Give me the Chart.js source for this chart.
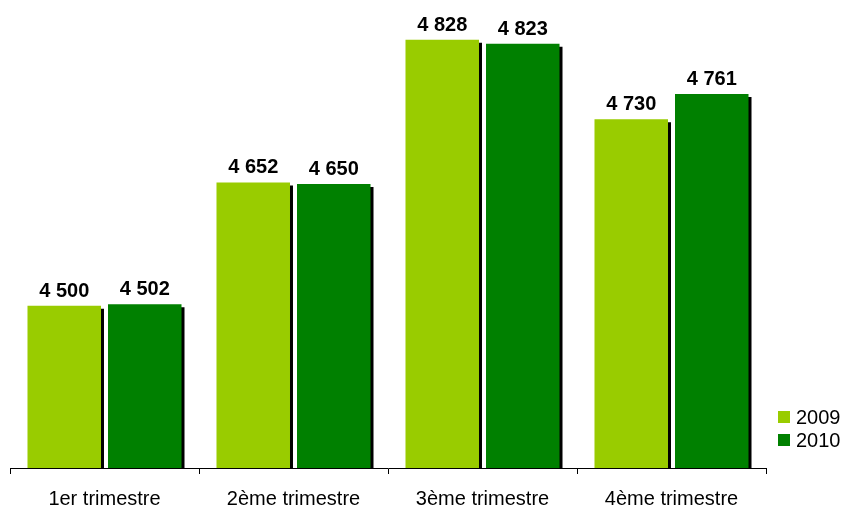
<!DOCTYPE html>
<html>
<head>
<meta charset="utf-8">
<script src="https://cdn.jsdelivr.net/npm/chart.js@4"></script>
<style>
  body { margin: 0; background: #fff; }
  #wrap { width: 844px; height: 507px; }
</style>
</head>
<body>
<div id="wrap"><canvas id="chart1"></canvas></div>
<script>
const quarters = ['1er trimestre', '2ème trimestre', '3ème trimestre', '4ème trimestre']
const years = ['2009', '2010']
const values2009 = [4500, 4652, 4828, 4730]
const values2010 = [4502, 4650, 4823, 4761]
const colors = ['#99CC00', '#008000']

// french style thousands: "4 500"
function fmt(v) {
  return String(v).replace(/\B(?=(\d{3})+(?!\d))/g, ' ')
}

// black drop shadow under each bar
const barShadow = {
  id: 'barShadow',
  beforeDatasetDraw(chart) {
    const ctx = chart.ctx
    ctx.save()
    ctx.shadowColor = '#000'
    ctx.shadowOffsetX = 3
    ctx.shadowOffsetY = 3
    ctx.shadowBlur = 0
  },
  afterDatasetDraw(chart) {
    chart.ctx.restore()
  }
}

// value labels above bars + legend bottom right
const labelsAndLegend = {
  id: 'labelsAndLegend',
  afterDatasetsDraw(chart) {
    const ctx = chart.ctx
    ctx.save()
    ctx.font = 'bold 20px "Liberation Sans", Arial, sans-serif'
    ctx.fillStyle = '#000'
    ctx.textAlign = 'center'
    ctx.textBaseline = 'alphabetic'
    chart.data.datasets.forEach((ds, i) => {
      chart.getDatasetMeta(i).data.forEach((bar, j) => {
        ctx.fillText(fmt(ds.data[j]), bar.x, bar.y - 9)
      })
    })

    ctx.font = '20px "Liberation Sans", Arial, sans-serif'
    ctx.textAlign = 'left'
    ctx.textBaseline = 'middle'
    years.forEach((y, i) => {
      const top = 411 + i * 23
      ctx.fillStyle = colors[i]
      ctx.fillRect(778, top, 12, 12)
      ctx.fillStyle = '#000'
      ctx.fillText(y, 796, top + 7)
    })
    ctx.restore()
  }
}

new Chart(document.getElementById('chart1'), {
  type: 'bar',
  data: {
    labels: quarters,
    datasets: [
      {
        label: years[0],
        data: values2009,
        backgroundColor: colors[0],
        categoryPercentage: 0.852,
        barPercentage: 0.913,
        clip: {left: false, right: false, top: false, bottom: 0}
      },
      {
        label: years[1],
        data: values2010,
        backgroundColor: colors[1],
        categoryPercentage: 0.852,
        barPercentage: 0.913,
        clip: {left: false, right: false, top: false, bottom: 0}
      }
    ]
  },
  options: {
    responsive: true,
    maintainAspectRatio: false,
    animation: false,
    layout: { padding: { left: 10, right: 78, top: 0, bottom: -17 } },
    plugins: {
      legend: { display: false },
      tooltip: { enabled: false }
    },
    scales: {
      x: {
        z: 1,
        grid: {
          offset: true,
          drawOnChartArea: false,
          drawTicks: true,
          tickLength: 6,
          color: '#000'
        },
        border: { display: true, color: '#000', width: 1 },
        ticks: {
          color: '#000',
          padding: 13,
          font: { family: '"Liberation Sans", Arial, sans-serif', size: 20 }
        }
      },
      y: {
        display: false,
        min: 4300,
        max: 4877
      }
    }
  },
  plugins: [barShadow, labelsAndLegend]
})
</script>
</body>
</html>
